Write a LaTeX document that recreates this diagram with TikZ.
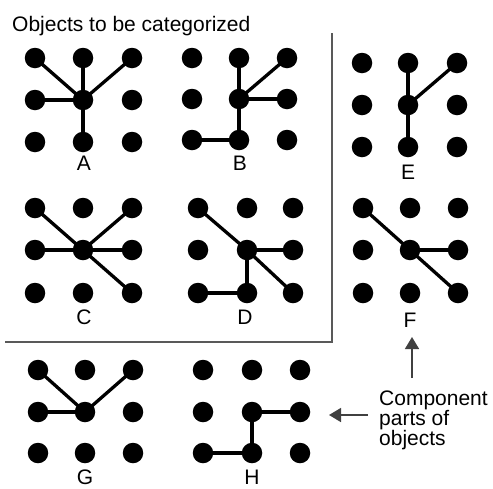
\documentclass[tikz,border=0pt]{standalone}
\usepackage{fontspec}
\setmainfont{Liberation Sans}
\usetikzlibrary{arrows.meta}
\tikzset{
  dot/.style={circle, fill=black, inner sep=0pt, minimum size=20.5pt},
  edge/.style={line width=3.3pt, black},
  lab/.style={font=\fontsize{21}{24}\selectfont, inner sep=0pt},
  txt/.style={font=\fontsize{21}{20}\selectfont, inner sep=0pt, anchor=base west},
  frame/.style={line width=1.5pt, black!65},
  arr/.style={line width=1.6pt, black!75, -{Triangle[width=14pt,length=12pt]}}
}
\begin{document}
\begin{tikzpicture}[x=1pt,y=-1pt]
\useasboundingbox (0,0) rectangle (493,488);
% title
\node[txt] (title) at (12,31) {Objects to be categorized};
% frame
\coordinate (ftop) at (332,33);
\coordinate (fcorner) at (332,342);
\coordinate (fleft) at (5,342);
\draw[frame] (ftop) -- (fcorner) -- (fleft);
% dot grids
\foreach \g/\xa/\xb/\xc/\ya/\yb/\yc in {
  A/35/83/132/58/100/142,
  B/192/239/287/58/99/140,
  C/35/83/132/208/250/293,
  D/198/247/293/208/250/293,
  E/362/408/457/63/105/147,
  F/363/410/458/208/250/293,
  G/38/85/133/370/412/453,
  H/203/252/300/370/412/453}{
  \foreach \i/\x in {0/\xa,1/\xb,2/\xc}{
    \foreach \j/\y in {0/\ya,1/\yb,2/\yc}{
      \node[dot] (\g\i\j) at (\x,\y) {};
    }
  }
}
% labels
\node[lab] (labA) at (84,163) {A};
\node[lab] (labB) at (240,163) {B};
\node[lab] (labC) at (84,317) {C};
\node[lab] (labD) at (245,317) {D};
\node[lab] (labE) at (408,172) {E};
\node[lab] (labF) at (410,320) {F};
\node[lab] (labG) at (85,477) {G};
\node[lab] (labH) at (252,477) {H};
% edges
\foreach \t in {00,10,20,01,12} \draw[edge] (A11.center) -- (A\t.center);
\foreach \t in {10,20,21,12} \draw[edge] (B11.center) -- (B\t.center);
\draw[edge] (B12.center) -- (B02.center);
\foreach \t in {00,20,01,21,22} \draw[edge] (C11.center) -- (C\t.center);
\foreach \t in {00,21,22,12} \draw[edge] (D11.center) -- (D\t.center);
\draw[edge] (D12.center) -- (D02.center);
\foreach \t in {10,20,12} \draw[edge] (E11.center) -- (E\t.center);
\foreach \t in {00,21,22} \draw[edge] (F11.center) -- (F\t.center);
\foreach \t in {00,20,01} \draw[edge] (G11.center) -- (G\t.center);
\foreach \t in {21,12} \draw[edge] (H11.center) -- (H\t.center);
\draw[edge] (H12.center) -- (H02.center);
% annotation
\node[txt] (comp1) at (379,405) {Component};
\node[txt] (comp2) at (379,425) {parts of};
\node[txt] (comp3) at (379,445) {objects};
\coordinate (upstart) at (412,378);
\coordinate (uptip) at (412,337);
\draw[arr] (upstart) -- (uptip);
\coordinate (leftstart) at (368,415);
\coordinate (lefttip) at (329,415);
\draw[arr] (leftstart) -- (lefttip);
\end{tikzpicture}
\end{document}
